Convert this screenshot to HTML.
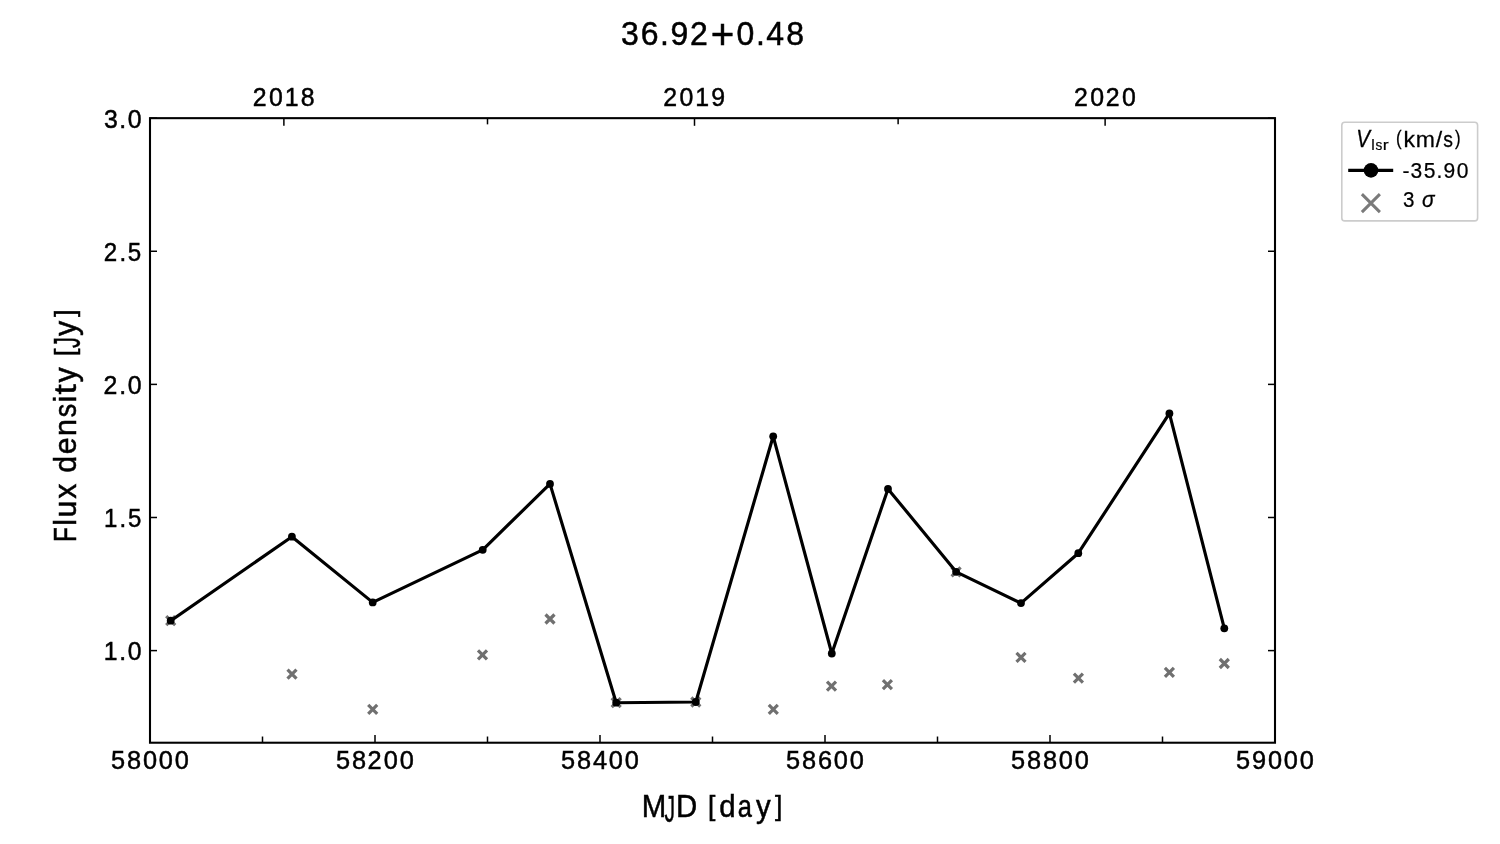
<!DOCTYPE html>
<html lang="en"><head><meta charset="utf-8"><title>36.92+0.48</title>
<style>html,body{margin:0;padding:0;background:#fff;overflow:hidden;}svg{display:block;font-family:"Liberation Sans",sans-serif;will-change:transform;}</style></head><body>
<svg width="1500" height="844" viewBox="0 0 1500 844">
<g stroke="#707070" stroke-width="3.2" stroke-linecap="butt" fill="none">
<path d="M166.20 616.20L175.20 625.20M166.20 625.20L175.20 616.20"/>
<path d="M287.50 669.60L296.50 678.60M287.50 678.60L296.50 669.60"/>
<path d="M368.20 704.90L377.20 713.90M368.20 713.90L377.20 704.90"/>
<path d="M478.00 650.40L487.00 659.40M478.00 659.40L487.00 650.40"/>
<path d="M545.50 614.50L554.50 623.50M545.50 623.50L554.50 614.50"/>
<path d="M611.70 698.20L620.70 707.20M611.70 707.20L620.70 698.20"/>
<path d="M691.30 697.50L700.30 706.50M691.30 706.50L700.30 697.50"/>
<path d="M768.80 704.90L777.80 713.90M768.80 713.90L777.80 704.90"/>
<path d="M827.00 681.60L836.00 690.60M827.00 690.60L836.00 681.60"/>
<path d="M882.90 680.10L891.90 689.10M882.90 689.10L891.90 680.10"/>
<path d="M951.60 567.30L960.60 576.30M951.60 576.30L960.60 567.30"/>
<path d="M1016.50 652.90L1025.50 661.90M1016.50 661.90L1025.50 652.90"/>
<path d="M1073.90 673.60L1082.90 682.60M1073.90 682.60L1082.90 673.60"/>
<path d="M1164.90 667.80L1173.90 676.80M1164.90 676.80L1173.90 667.80"/>
<path d="M1219.80 659.00L1228.80 668.00M1219.80 668.00L1228.80 659.00"/>
</g>
<polyline points="170.70,620.70 291.90,536.70 372.70,602.40 482.70,549.80 550.00,483.90 616.20,702.70 695.80,702.00 773.20,436.30 831.80,653.50 888.00,488.90 956.10,571.80 1021.00,603.10 1078.30,553.20 1169.40,413.40 1224.30,628.30" fill="none" stroke="#000" stroke-width="3.15" stroke-linejoin="round" stroke-linecap="square"/>
<g fill="#000">
<circle cx="170.70" cy="620.70" r="3.9"/>
<circle cx="291.90" cy="536.70" r="3.9"/>
<circle cx="372.70" cy="602.40" r="3.9"/>
<circle cx="482.70" cy="549.80" r="3.9"/>
<circle cx="550.00" cy="483.90" r="3.9"/>
<circle cx="616.20" cy="702.70" r="3.9"/>
<circle cx="695.80" cy="702.00" r="3.9"/>
<circle cx="773.20" cy="436.30" r="3.9"/>
<circle cx="831.80" cy="653.50" r="3.9"/>
<circle cx="888.00" cy="488.90" r="3.9"/>
<circle cx="956.10" cy="571.80" r="3.9"/>
<circle cx="1021.00" cy="603.10" r="3.9"/>
<circle cx="1078.30" cy="553.20" r="3.9"/>
<circle cx="1169.40" cy="413.40" r="3.9"/>
<circle cx="1224.30" cy="628.30" r="3.9"/>
</g>
<g stroke="#000" stroke-width="1.5" fill="none">
<path d="M150.00 742.72V735.07"/>
<path d="M375.00 742.72V735.07"/>
<path d="M600.00 742.72V735.07"/>
<path d="M825.00 742.72V735.07"/>
<path d="M1050.00 742.72V735.07"/>
<path d="M1275.00 742.72V735.07"/>
<path d="M262.50 742.72V736.52"/>
<path d="M487.50 742.72V736.52"/>
<path d="M712.50 742.72V736.52"/>
<path d="M937.50 742.72V736.52"/>
<path d="M1162.50 742.72V736.52"/>
<path d="M283.88 118.16V125.81"/>
<path d="M694.50 118.16V125.81"/>
<path d="M1105.12 118.16V125.81"/>
<path d="M487.50 118.16V124.36"/>
<path d="M898.12 118.16V124.36"/>
<path d="M150.0 118.16H157.00"/>
<path d="M1275.0 118.16H1268.00"/>
<path d="M150.0 251.27H157.00"/>
<path d="M1275.0 251.27H1268.00"/>
<path d="M150.0 384.38H157.00"/>
<path d="M1275.0 384.38H1268.00"/>
<path d="M150.0 517.49H157.00"/>
<path d="M1275.0 517.49H1268.00"/>
<path d="M150.0 650.60H157.00"/>
<path d="M1275.0 650.60H1268.00"/>
</g>
<rect x="150.0" y="118.16" width="1125.0" height="624.56" fill="none" stroke="#000" stroke-width="2.08" stroke-linejoin="miter"/>
<text transform="translate(0,45.00) scale(0.9633,1)" x="644.59 665.20 685.28 696.04 716.36 737.74 764.60 784.69 795.55 816.19" y="0" font-size="33.21" fill="#000" stroke="#000" stroke-width="0.5">36.92<tspan font-size="41.80" dy="3.67">+</tspan><tspan dy="-3.67">0</tspan>.48</text>
<text transform="translate(0,105.55) scale(0.9363,1)" x="269.89 287.23 304.10 321.21" y="0" font-size="26.57" fill="#000" stroke="#000" stroke-width="0.5">2018</text>
<text transform="translate(0,105.55) scale(0.9363,1)" x="708.48 725.82 742.68 759.71" y="0" font-size="26.57" fill="#000" stroke="#000" stroke-width="0.5">2019</text>
<text transform="translate(0,105.55) scale(0.9363,1)" x="1146.98 1164.32 1180.96 1198.30" y="0" font-size="26.57" fill="#000" stroke="#000" stroke-width="0.5">2020</text>
<text transform="translate(0,768.85) scale(0.9544,1)" x="116.30 133.07 149.74 166.40 183.07" y="0" font-size="26.57" fill="#000" stroke="#000" stroke-width="0.5">58000</text>
<text transform="translate(0,768.85) scale(0.9544,1)" x="352.06 368.82 385.14 402.15 418.82" y="0" font-size="26.57" fill="#000" stroke="#000" stroke-width="0.5">58200</text>
<text transform="translate(0,768.85) scale(0.9544,1)" x="587.81 604.57 621.23 637.91 654.57" y="0" font-size="26.57" fill="#000" stroke="#000" stroke-width="0.5">58400</text>
<text transform="translate(0,768.85) scale(0.9544,1)" x="823.56 840.33 857.00 873.66 890.32" y="0" font-size="26.57" fill="#000" stroke="#000" stroke-width="0.5">58600</text>
<text transform="translate(0,768.85) scale(0.9544,1)" x="1059.31 1076.08 1092.74 1109.41 1126.07" y="0" font-size="26.57" fill="#000" stroke="#000" stroke-width="0.5">58800</text>
<text transform="translate(0,768.85) scale(0.9544,1)" x="1295.06 1311.75 1328.49 1345.16 1361.83" y="0" font-size="26.57" fill="#000" stroke="#000" stroke-width="0.5">59000</text>
<text transform="translate(0,127.61) scale(0.9353,1)" x="111.15 127.56 136.62" y="0" font-size="26.57" fill="#000" stroke="#000" stroke-width="0.5">3.0</text>
<text transform="translate(0,260.72) scale(0.9093,1)" x="114.15 131.32 140.63" y="0" font-size="26.57" fill="#000" stroke="#000" stroke-width="0.5">2.5</text>
<text transform="translate(0,393.83) scale(0.9363,1)" x="110.65 127.43 136.47" y="0" font-size="26.57" fill="#000" stroke="#000" stroke-width="0.5">2.0</text>
<text transform="translate(0,526.94) scale(0.9041,1)" x="115.10 132.10 141.49" y="0" font-size="26.57" fill="#000" stroke="#000" stroke-width="0.5">1.5</text>
<text transform="translate(0,660.05) scale(0.9311,1)" x="111.54 128.16 137.28" y="0" font-size="26.57" fill="#000" stroke="#000" stroke-width="0.5">1.0</text>
<text transform="translate(0,817.25) scale(0.9505,1)" x="675.28 699.01 711.16 734.06 744.87 756.74 776.19 795.42 815.40" y="0" font-size="30.91" fill="#000" stroke="#000" stroke-width="0.5">M<tspan font-size="37.09" textLength="11.13" lengthAdjust="spacingAndGlyphs" dy="4.25">J</tspan><tspan dy="-4.25">D</tspan> <tspan font-size="27.90" dy="-1.94">[</tspan><tspan dy="1.94">d</tspan><tspan textLength="14.88" lengthAdjust="spacingAndGlyphs">a</tspan>y<tspan font-size="27.90" dy="-1.94">]</tspan></text>
<text transform="rotate(-90) translate(0,75.90) scale(0.9814,1)" x="-552.38 -535.68 -527.36 -508.28 -491.70 -481.60 -462.78 -444.22 -425.20 -410.08 -401.99 -389.82 -373.29 -362.97 -354.70 -342.42 -322.92" y="0" font-size="30.91" fill="#000" stroke="#000" stroke-width="0.5"><tspan textLength="15.06" lengthAdjust="spacingAndGlyphs">F</tspan>lux den<tspan textLength="13.73" lengthAdjust="spacingAndGlyphs">s</tspan>i<tspan textLength="10.38" lengthAdjust="spacingAndGlyphs">t</tspan>y <tspan font-size="27.90" dy="-1.94">[</tspan><tspan font-size="37.09" textLength="11.13" lengthAdjust="spacingAndGlyphs" dy="6.20">J</tspan><tspan dy="-4.25">y</tspan><tspan font-size="27.90" dy="-1.94">]</tspan></text>
<rect x="1341.8" y="122.3" width="135.8" height="98.6" rx="3" ry="3" fill="#fff" stroke="#cccccc" stroke-width="1.6"/>
<g>
<text transform="translate(0,146.75) scale(0.8935,1)" x="1517.96" y="0" font-size="23.07" font-style="italic" fill="#000" stroke="#000" stroke-width="0.3">V</text>
<text transform="translate(0,149.60) scale(1.0241,1)" x="1338.88 1343.04 1350.23" y="0" font-size="15.30" fill="#000" stroke="#000" stroke-width="0.2">l<tspan textLength="6.63" lengthAdjust="spacingAndGlyphs">s</tspan><tspan textLength="5.77" lengthAdjust="spacingAndGlyphs">r</tspan></text>
<text transform="translate(0,146.70) scale(1.0538,1)" x="1324.63 1331.92 1343.57 1362.54 1369.57 1380.80" y="0" font-size="21.85" fill="#000" stroke="#000" stroke-width="0.25"><tspan font-size="19.92" textLength="5.31" lengthAdjust="spacingAndGlyphs" dy="-1.38">(</tspan><tspan dy="1.38">k</tspan>m/<tspan textLength="9.23" lengthAdjust="spacingAndGlyphs">s</tspan><tspan font-size="19.92" textLength="5.31" lengthAdjust="spacingAndGlyphs" dy="-1.38">)</tspan></text>
</g>
<path d="M1348.2 170.4H1393.2" stroke="#000" stroke-width="3.15" fill="none"/>
<circle cx="1371.0" cy="170.4" r="7.3" fill="#000"/>
<text transform="translate(0,178.00) scale(0.9498,1)" x="1476.55 1485.04 1498.88 1512.50 1519.82 1533.85" y="0" font-size="22.14" fill="#000" stroke="#000" stroke-width="0.25">-35.90</text>
<path d="M1361.9 194.1L1379.9 212.1M1361.9 212.1L1379.9 194.1" stroke="#7a7a7a" stroke-width="3.0" fill="none"/>
<text transform="translate(0,207.20) scale(0.9305,1)" x="1507.87" y="0" font-size="22.14" fill="#000" stroke="#000" stroke-width="0.25">3</text>
<text transform="translate(0,207.20) scale(0.9639,1)" x="1475.36" y="0" font-size="21.57" font-style="italic" fill="#000" stroke="#000" stroke-width="0.25">σ</text>
</svg></body></html>
